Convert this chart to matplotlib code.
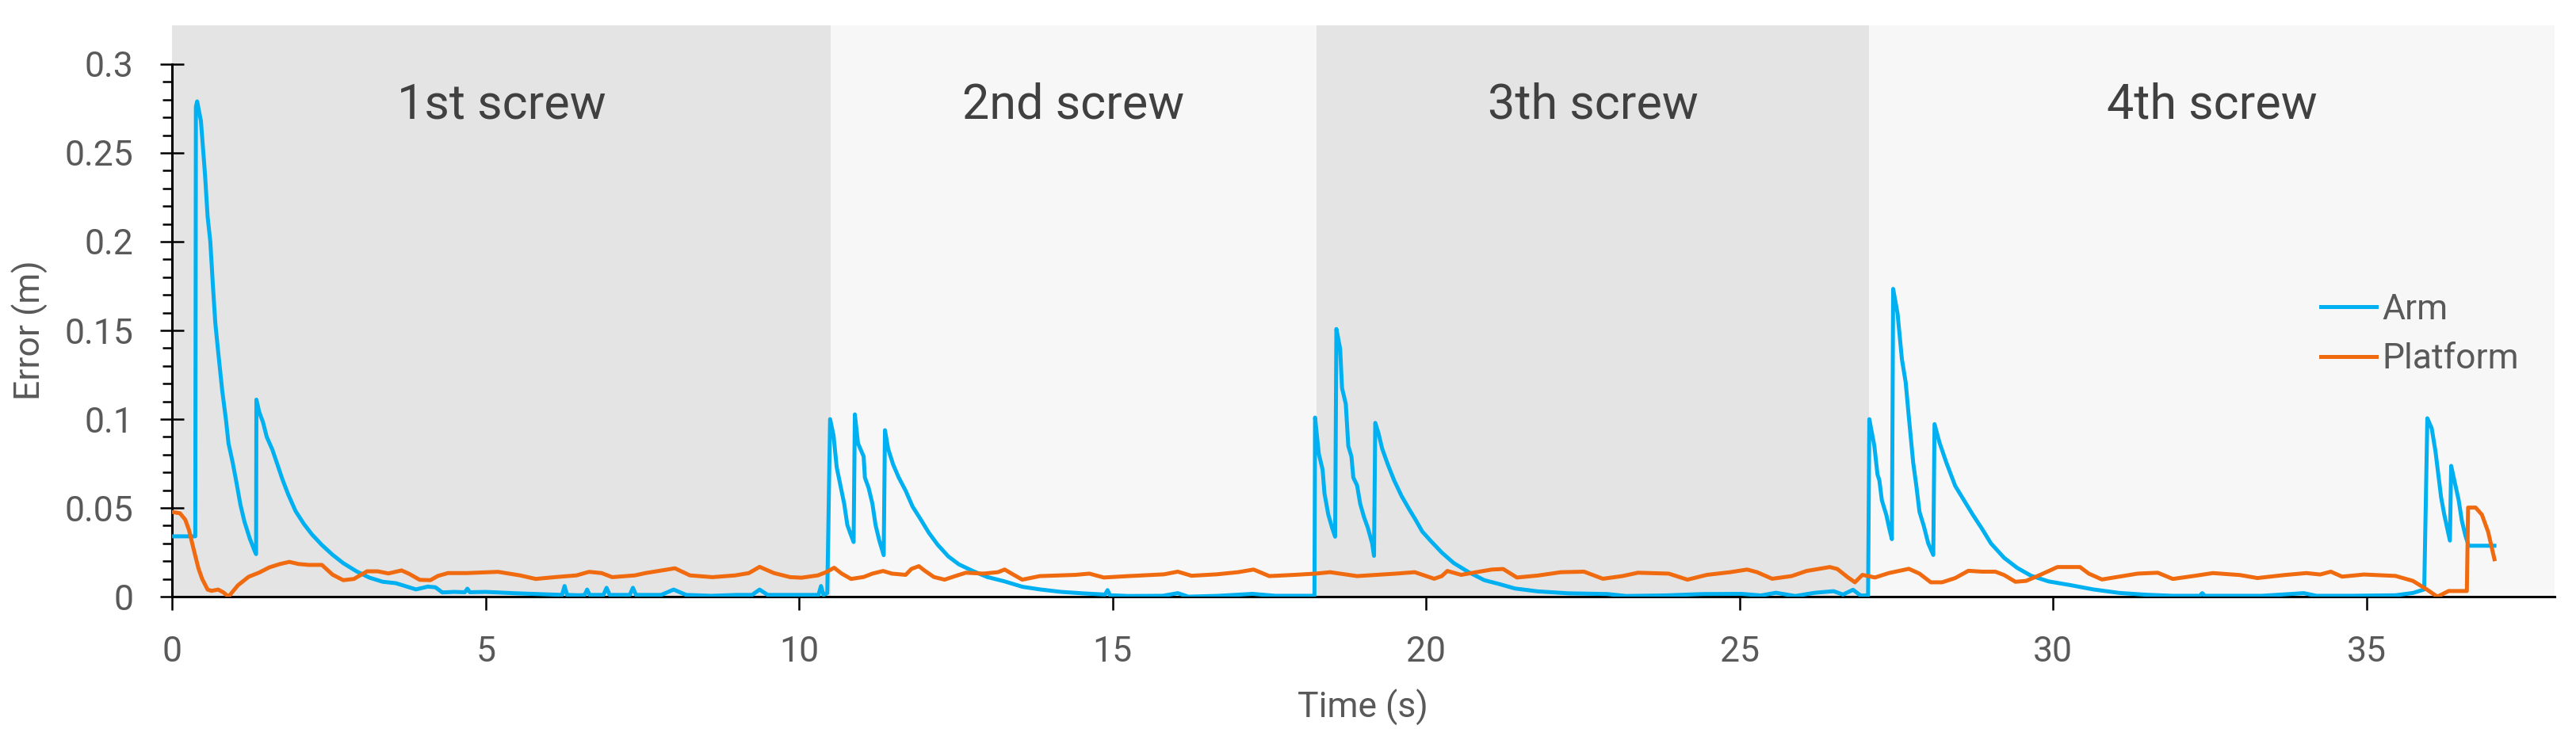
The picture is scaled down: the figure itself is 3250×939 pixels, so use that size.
import numpy as np
import matplotlib
matplotlib.use("Agg")
import matplotlib.pyplot as plt

plt.rcParams['font.family'] = ['Roboto', 'DejaVu Sans']

#=================================
# Data
#=================================
# task phases (s)
band_edges = [0, 10.5, 18.25, 27.07, 38]
band_labels = ["1st screw", "2nd screw", "3th screw", "4th screw"]
band_colors = ["#E4E4E4", "#F7F7F7", "#E4E4E4", "#F7F7F7"]

# Arm error, one piece per screw
arm_t_1 = [0, 0.37, 0.38, 0.40, 0.46, 0.525, 0.567, 0.61, 0.65, 0.69, 0.735, 0.80, 0.86, 0.90,
           0.966, 1.03, 1.09, 1.155, 1.24, 1.32, 1.34, 1.345, 1.39, 1.45, 1.51, 1.60, 1.68, 1.76,
           1.85, 1.97, 2.10, 2.23, 2.39, 2.56, 2.73, 2.94, 3.15, 3.36, 3.57, 3.89, 4.08, 4.20,
           4.31, 4.5, 4.67, 4.71, 4.75, 5.0, 5.5, 6.0, 6.22, 6.26, 6.3, 6.5, 6.58, 6.62, 6.66,
           6.88, 6.93, 6.98, 7.3, 7.35, 7.4, 7.8, 8.0, 8.2, 8.6, 9.0, 9.25, 9.37, 9.5, 10.2,
           10.31, 10.35, 10.39, 10.45]
arm_v_1 = [0.034, 0.034, 0.276, 0.279, 0.268, 0.238, 0.214, 0.200, 0.176, 0.154, 0.138, 0.116,
           0.0995, 0.0864, 0.0757, 0.0637, 0.0518, 0.0422, 0.0327, 0.0255, 0.024, 0.111, 0.104,
           0.0983, 0.090, 0.0828, 0.0745, 0.0661, 0.0578, 0.0482, 0.0411, 0.0351, 0.0291,
           0.0236, 0.0189, 0.0143, 0.0107, 0.0084, 0.0076, 0.0041, 0.0057, 0.0053, 0.0024,
           0.0027, 0.0025, 0.0045, 0.0025, 0.0027, 0.0019, 0.0013, 0.001, 0.006, 0.001, 0.0008,
           0.001, 0.004, 0.001, 0.001, 0.005, 0.001, 0.001, 0.005, 0.001, 0.001, 0.004, 0.001,
           0.0005, 0.001, 0.001, 0.004, 0.001, 0.001, 0.001, 0.006, 0.001, 0.002]

arm_t_2 = [10.495, 10.55, 10.60, 10.66, 10.72, 10.77, 10.83, 10.87, 10.89, 10.94, 11.03, 11.05,
           11.11, 11.17, 11.22, 11.28, 11.35, 11.37, 11.42, 11.50, 11.59, 11.70, 11.81, 11.93,
           12.07, 12.21, 12.38, 12.55, 12.77, 13.0, 13.28, 13.56, 13.84, 14.18, 14.52, 14.88,
           14.92, 14.96, 15.25, 15.8, 16.04, 16.21, 16.7, 17.23, 17.6, 18.22]
arm_v_2 = [0.100, 0.0908, 0.073, 0.0627, 0.0523, 0.0404, 0.0345, 0.0308, 0.1027, 0.0864, 0.079,
           0.0671, 0.0612, 0.0523, 0.0404, 0.0316, 0.0234, 0.0938, 0.0834, 0.0745, 0.0671,
           0.0597, 0.0508, 0.0441, 0.036, 0.0293, 0.0227, 0.0182, 0.0145, 0.0111, 0.0086,
           0.0056, 0.0041, 0.0027, 0.0019, 0.0012, 0.0037, 0.0008, 0.0004, 0.0005, 0.002, 0.0,
           0.0005, 0.0016, 0.0005, 0.0005]

arm_t_3 = [18.23, 18.29, 18.35, 18.38, 18.44, 18.50, 18.55, 18.57, 18.63, 18.66, 18.72, 18.76,
           18.81, 18.84, 18.90, 18.95, 19.01, 19.07, 19.14, 19.17, 19.19, 19.24, 19.30, 19.39,
           19.49, 19.61, 19.73, 19.82, 19.94, 20.07, 20.25, 20.44, 20.68, 20.93, 21.17, 21.42,
           21.78, 22.27, 22.89, 23.19, 23.8, 24.42, 25.03, 25.34, 25.58, 25.89, 26.2, 26.5,
           26.65, 26.81, 26.93, 27.05]
arm_v_3 = [0.1009, 0.0804, 0.0716, 0.0582, 0.0464, 0.039, 0.0338, 0.1508, 0.1397, 0.1175,
           0.1086, 0.0849, 0.079, 0.0671, 0.0627, 0.0523, 0.0449, 0.039, 0.0301, 0.023, 0.0979,
           0.0923, 0.0834, 0.0745, 0.0656, 0.0567, 0.0493, 0.0441, 0.0367, 0.0316, 0.0249,
           0.019, 0.0138, 0.0093, 0.0071, 0.0046, 0.003, 0.0019, 0.0015, 0.0004, 0.0007,
           0.0015, 0.0016, 0.0007, 0.0022, 0.0004, 0.0022, 0.0031, 0.0012, 0.0039, 0.0007,
           0.0007]

arm_t_4 = [27.07, 27.15, 27.20, 27.23, 27.27, 27.34, 27.39, 27.43, 27.45, 27.52, 27.59, 27.65,
           27.70, 27.77, 27.82, 27.87, 27.94, 28.01, 28.09, 28.11, 28.19, 28.30, 28.44, 28.58,
           28.72, 28.87, 29.01, 29.22, 29.43, 29.65, 29.93, 30.28, 30.64, 31.06, 31.49, 31.91,
           32.34, 32.38, 32.42, 33.33, 34.0, 34.2, 34.75, 35.46, 35.74, 35.92, 35.97, 36.04,
           36.10, 36.15, 36.19, 36.24, 36.30, 36.33, 36.35, 36.42, 36.47, 36.52, 36.58, 36.63,
           37.04]
arm_v_4 = [0.1, 0.085, 0.0689, 0.0656, 0.0543, 0.0462, 0.0381, 0.0324, 0.1734, 0.1596, 0.1337,
           0.1207, 0.1013, 0.0754, 0.0624, 0.0478, 0.0397, 0.030, 0.0235, 0.0972, 0.0867,
           0.0754, 0.0624, 0.0543, 0.0462, 0.0381, 0.030, 0.0219, 0.0162, 0.0118, 0.0086,
           0.0065, 0.0041, 0.0021, 0.0011, 0.0005, 0.0005, 0.002, 0.0005, 0.0005, 0.002, 0.0005,
           0.0005, 0.0008, 0.0021, 0.0041, 0.1005, 0.0948, 0.0818, 0.0673, 0.0559, 0.0462,
           0.0365, 0.0316, 0.0737, 0.0624, 0.0543, 0.0429, 0.034, 0.0287, 0.0287]

# Platform error
plat_t = [0, 0.126, 0.21, 0.27, 0.336, 0.42, 0.48, 0.567, 0.63, 0.735, 0.82, 0.90, 1.05, 1.22,
          1.39, 1.55, 1.72, 1.87, 2.02, 2.18, 2.39, 2.56, 2.73, 2.90, 3.11, 3.28, 3.45, 3.66,
          3.78, 3.95, 4.12, 4.24, 4.4, 4.7, 5.2, 5.55, 5.8, 6.1, 6.45, 6.65, 6.85, 7.02, 7.38,
          7.55, 8.02, 8.26, 8.62, 8.98, 9.2, 9.37, 9.6, 9.86, 10.04, 10.3, 10.43, 10.56, 10.68,
          10.83, 11.03, 11.17, 11.34, 11.48, 11.70, 11.79, 11.91, 12.01, 12.15, 12.32, 12.49,
          12.66, 12.94, 13.17, 13.28, 13.39, 13.56, 13.84, 14.41, 14.63, 14.86, 15.25, 15.82,
          16.04, 16.26, 16.66, 17.0, 17.25, 17.5, 17.9, 18.24, 18.47, 18.9, 19.21, 19.52, 19.82,
          20.13, 20.25, 20.34, 20.56, 20.8, 21.05, 21.23, 21.45, 21.78, 22.15, 22.52, 22.82,
          23.13, 23.38, 23.87, 24.17, 24.48, 24.85, 25.12, 25.28, 25.52, 25.83, 26.07, 26.44,
          26.56, 26.72, 26.84, 26.96, 27.16, 27.38, 27.7, 27.87, 28.05, 28.23, 28.44, 28.65,
          28.87, 29.08, 29.22, 29.4, 29.57, 29.79, 30.07, 30.43, 30.57, 30.78, 31.06, 31.35,
          31.67, 31.91, 32.27, 32.55, 32.98, 33.26, 33.69, 34.04, 34.26, 34.43, 34.61, 34.96,
          35.46, 35.74, 35.96, 36.13, 36.31, 36.6, 36.62, 36.74, 36.84, 36.94, 37.04]
plat_v = [0.0477, 0.047, 0.0434, 0.0375, 0.0279, 0.016, 0.010, 0.004, 0.0033, 0.004, 0.0024, 0.0,
          0.0064, 0.0112, 0.0136, 0.0165, 0.0184, 0.0196, 0.0184, 0.0179, 0.0179, 0.0124,
          0.0093, 0.010, 0.0143, 0.0143, 0.0131, 0.0148, 0.0129, 0.0095, 0.0093, 0.0117, 0.0133,
          0.0133, 0.014, 0.012, 0.010, 0.011, 0.012, 0.014, 0.0133, 0.011, 0.012, 0.0133, 0.016,
          0.012, 0.011, 0.012, 0.0133, 0.0168, 0.0133, 0.011, 0.0107, 0.012, 0.0138, 0.0163,
          0.013, 0.010, 0.0111, 0.013, 0.0145, 0.013, 0.0123, 0.0156, 0.0172, 0.0145, 0.0111,
          0.0096, 0.0116, 0.0135, 0.013, 0.0138, 0.0153, 0.013, 0.0096, 0.0116, 0.0123, 0.013,
          0.0108, 0.0116, 0.0126, 0.0141, 0.0118, 0.0126, 0.0138, 0.0153, 0.0116, 0.0123, 0.013,
          0.0138, 0.0116, 0.0123, 0.013, 0.0138, 0.0101, 0.0116, 0.0145, 0.0123, 0.0138, 0.0153,
          0.0156, 0.0108, 0.0119, 0.0138, 0.0141, 0.0101, 0.0116, 0.0135, 0.013, 0.0096, 0.0123,
          0.0138, 0.0153, 0.0138, 0.0101, 0.0116, 0.0145, 0.0167, 0.0156, 0.0111, 0.0081,
          0.0123, 0.0108, 0.0133, 0.0157, 0.013, 0.0081, 0.0081, 0.0105, 0.0146, 0.0141, 0.0141,
          0.0122, 0.0084, 0.0089, 0.0122, 0.0167, 0.0167, 0.013, 0.0097, 0.0113, 0.013, 0.0135,
          0.010, 0.0118, 0.0133, 0.0122, 0.0105, 0.0122, 0.0133, 0.0125, 0.0141, 0.0113, 0.0125,
          0.0117, 0.0089, 0.0041, 0.0, 0.0032, 0.0032, 0.0502, 0.0502, 0.0462, 0.0365, 0.0211]

y_ticks = [0, 0.05, 0.1, 0.15, 0.2, 0.25, 0.3]
y_tick_labels = ["0", "0.05", "0.1", "0.15", "0.2", "0.25", "0.3"]
x_ticks = [0, 5, 10, 15, 20, 25, 30, 35]

arm_t = arm_t_1 + arm_t_2 + arm_t_3 + arm_t_4
arm_v = arm_v_1 + arm_v_2 + arm_v_3 + arm_v_4

#=================================
# Figure
#=================================
fig = plt.figure(figsize=(32.5, 9.39), dpi=100)
ax = fig.add_axes([0.0668, 0.198, 0.9249, 0.7683])
ax.set_xlim(0, 38)
ax.set_ylim(0, 0.322)

# shaded phases + their labels
for i in range(len(band_labels)):
    ax.axvspan(band_edges[i], band_edges[i + 1], color=band_colors[i], lw=0, zorder=0)
    ax.text((band_edges[i] + band_edges[i + 1]) / 2, 0.277, band_labels[i],
            ha='center', va='center', fontsize=44, color='#404040')

ax.plot(arm_t, arm_v, color='#00B0F0', lw=3.6, label='Arm', zorder=3)
ax.plot(plat_t, plat_v, color='#F06A0F', lw=3.6, label='Platform', zorder=3)

# axes styling
for s in ['top', 'right']:
    ax.spines[s].set_visible(False)
ax.spines['left'].set_bounds(0, 0.3)
ax.spines['left'].set_linewidth(2.2)
ax.spines['bottom'].set_linewidth(2.2)

ax.set_yticks(y_ticks)
ax.set_yticklabels(y_tick_labels)
ax.set_yticks(np.arange(0, 0.3001, 0.01), minor=True)
ax.set_xticks(x_ticks)
ax.tick_params(axis='y', which='major', direction='inout', length=22, width=1.8,
               pad=24, labelsize=32, labelcolor='#595959')
ax.tick_params(axis='y', which='minor', direction='out', length=8.5, width=1.8)
ax.tick_params(axis='x', which='major', direction='out', length=12, width=1.8,
               pad=23, labelsize=32, labelcolor='#595959')

fig.text(0.0118, 0.556, "Error (m)", rotation=90, ha='center', va='center',
         fontsize=32, color='#595959')
fig.text(0.5292, 0.049, "Time (s)", ha='center', va='center', fontsize=32, color='#595959')

ax.legend(loc='upper left', bbox_to_anchor=(0.901, 0.606), bbox_transform=fig.transFigure,
          frameon=False, fontsize=32, handlelength=1.58, handletextpad=0.16,
          labelspacing=0.46, borderpad=0, borderaxespad=0, labelcolor='#595959')

fig.savefig("out.png", dpi=100)
